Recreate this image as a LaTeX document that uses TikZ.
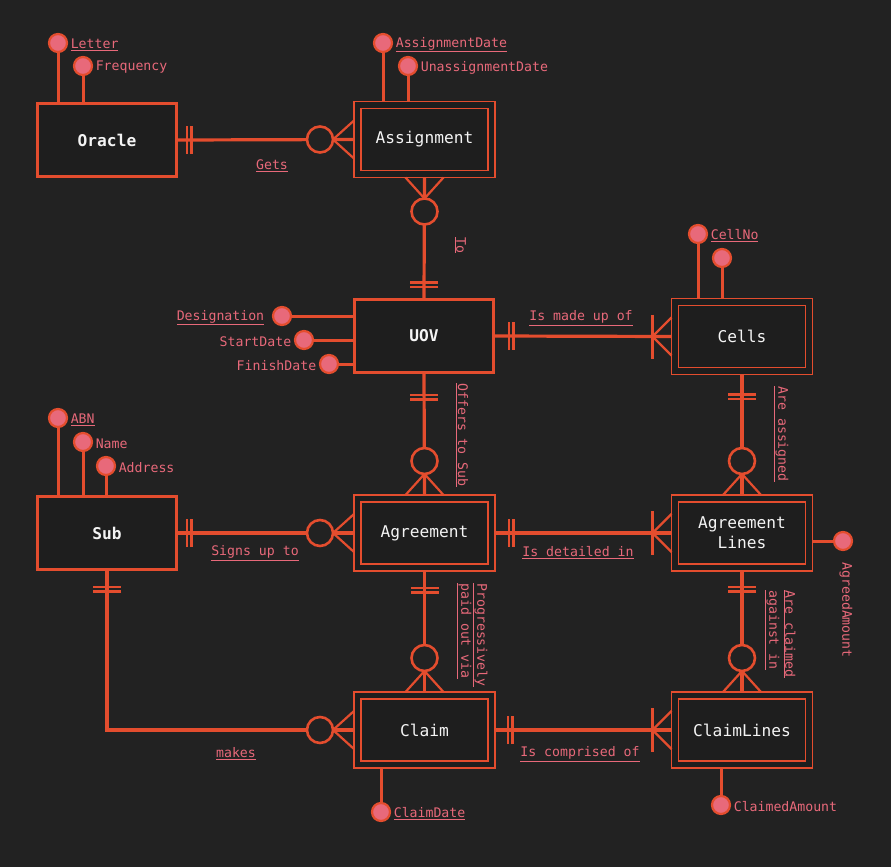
\documentclass[tikz,border=0pt]{standalone}
\usepackage{fontspec}
\setmainfont{DejaVu Sans Mono}
\usetikzlibrary{calc}

\definecolor{bgc}{HTML}{222222}
\definecolor{boxc}{HTML}{1E1E1E}
\definecolor{linec}{HTML}{E44D2E}
\definecolor{pinkc}{HTML}{E8697A}
\definecolor{namec}{HTML}{F4F4F4}

\tikzset{
  strong/.style={draw=linec, line width=3pt, fill=boxc, minimum width=139pt, minimum height=73pt,
    outer sep=1.5pt, text=namec, font=\fontsize{16.2}{20}\selectfont\bfseries},
  weak/.style={draw=linec, line width=1.3pt, double=boxc, double distance=5.7pt, fill=boxc,
    minimum width=134pt, minimum height=69pt, outer sep=3.5pt, text=namec,
    font=\fontsize{16.2}{20}\selectfont, align=center},
  attr/.style={circle, draw=linec, line width=2.2pt, fill=pinkc, minimum size=18pt, inner sep=0pt},
  attrtxt/.style={text=pinkc, font=\fontsize{13.2}{16}\selectfont, inner sep=2.5pt, yshift=-1.5pt},
  rel/.style={text=pinkc, font=\fontsize{13.2}{16}\selectfont, inner sep=1pt},
  conn/.style={draw=linec, line width=3.2pt},
  alink/.style={draw=linec, line width=3pt},
  mk/.style={draw=linec, line width=2.2pt}
}

% one and only one: #1 anchor, #2 direction away from entity, #3 offset of first bar
\newcommand{\oneone}[3]{%
  \begin{scope}[shift={(#1)}, rotate=#2]
    \draw[mk] (#3pt,-14pt) -- (#3pt,14pt) ++(4.5pt,0) -- ++(0,-28pt);
  \end{scope}}
% zero or many
\newcommand{\zeromany}[2]{%
  \begin{scope}[shift={(#1)}, rotate=#2]
    \draw[mk] (0pt,19pt) -- (21pt,0pt) -- (0pt,-19pt);
    \draw[mk, line width=2.6pt, fill=bgc] (34pt,0pt) circle (13pt);
  \end{scope}}
% one or many
\newcommand{\onemany}[2]{%
  \begin{scope}[shift={(#1)}, rotate=#2]
    \draw[mk] (0pt,19pt) -- (19pt,0pt) -- (0pt,-19pt);
    \draw[mk] (19pt,-22pt) -- (19pt,22pt);
  \end{scope}}

\begin{document}
\begin{tikzpicture}[x=1pt, y=-1pt]
  \fill[bgc] (0,0) rectangle (891,867);
  \useasboundingbox (0,0) rectangle (891,867);

  \node[strong] (oracle) at (107,140) {Oracle};
  \node[weak] (assign) at (424.5,139.5) {Assignment};
  \node[strong] (uov) at (424,336) {UOV};
  \node[weak] (cells) at (742,336.5) {Cells};
  \node[strong] (sub) at (107,533) {Sub};
  \node[weak] (agree) at (424.5,533) {Agreement};
  \node[weak] (alines) at (742,533) {Agreement\\Lines};
  \node[weak] (claim) at (424.5,730) {Claim};
  \node[weak] (clines) at (742,730) {ClaimLines};

  % attributes
  \node[attr, label={[attrtxt]right:\underline{Letter}}] (letter) at (58,43) {};
  \node[attr, label={[attrtxt]right:Frequency}] (freq) at (83,66) {};
  \draw[alink] (letter) -- (letter |- oracle.north);
  \draw[alink] (freq) -- (freq |- oracle.north);

  \node[attr, label={[attrtxt]right:\underline{AssignmentDate}}] (adate) at (383,43) {};
  \node[attr, label={[attrtxt]right:UnassignmentDate}] (udate) at (408,66) {};
  \draw[alink] (adate) -- (adate |- assign.north);
  \draw[alink] (udate) -- (udate |- assign.north);

  \node[attr, label={[attrtxt, label distance=5pt]left:\underline{Designation}}] (desig) at (282,316) {};
  \node[attr, label={[attrtxt]left:StartDate}] (start) at (304,340) {};
  \node[attr, label={[attrtxt]left:FinishDate}] (finish) at (329,364) {};
  \draw[alink] (desig) -- (desig -| uov.west);
  \draw[alink] (start) -- (start -| uov.west);
  \draw[alink] (finish) -- (finish -| uov.west);

  \node[attr, label={[attrtxt]right:\underline{CellNo}}] (cellno) at (698,234) {};
  \node[attr] (cellx) at (722,258) {};
  \draw[alink] (cellno) -- (cellno |- cells.north);
  \draw[alink] (cellx) -- (cellx |- cells.north);

  \node[attr, label={[attrtxt]right:\underline{ABN}}] (abn) at (58,418) {};
  \node[attr, label={[attrtxt]right:Name}] (name) at (83,442) {};
  \node[attr, label={[attrtxt]right:Address}] (addr) at (106,466) {};
  \draw[alink] (abn) -- (abn |- sub.north);
  \draw[alink] (name) -- (name |- sub.north);
  \draw[alink] (addr) -- (addr |- sub.north);

  \node[attr] (agreed) at (843,541) {};
  \draw[alink] (agreed) -- (agreed -| alines.east);
  \node[rel, rotate=-90] (agreedtxt) at (846,610) {AgreedAmount};

  \node[attr, label={[attrtxt]right:\underline{ClaimDate}}] (cdate) at (381,812) {};
  \draw[alink] (cdate) -- (cdate |- claim.south);
  \node[attr, label={[attrtxt]right:ClaimedAmount}] (camount) at (721,805) {};
  \draw[alink] (camount) -- (camount |- clines.south);

  % relationships
  \draw[conn] (oracle.east) -- (assign.west);
  \oneone{oracle.east}{0}{9}
  \zeromany{assign.west}{180}
  \node[rel] (gets) at (272,166) {\underline{Gets}};

  \draw[conn] (assign.south) -- (uov.north);
  \zeromany{assign.south}{-90}
  \oneone{uov.north}{90}{11}
  \node[rel, rotate=-90] (to) at (460,245) {\underline{To}};

  \draw[conn] (uov.east) -- (cells.west);
  \oneone{uov.east}{0}{14}
  \onemany{cells.west}{180}
  \node[rel] (madeup) at (581,318) {\underline{Is made up of}};

  \draw[conn] (uov.south) -- (agree.north);
  \oneone{uov.south}{-90}{21}
  \zeromany{agree.north}{90}
  \node[rel, rotate=-90] (offers) at (462,435) {\underline{Offers to Sub}};

  \draw[conn] (cells.south) -- (alines.north);
  \oneone{cells.south}{-90}{20}
  \zeromany{alines.north}{90}
  \node[rel, rotate=-90] (assigned) at (781,434) {\underline{Are assigned}};

  \draw[conn] (sub.east) -- (agree.west);
  \oneone{sub.east}{0}{9}
  \zeromany{agree.west}{180}
  \node[rel] (signs) at (255,553) {\underline{Signs up to}};

  \draw[conn] (agree.east) -- (alines.west);
  \oneone{agree.east}{0}{14}
  \onemany{alines.west}{180}
  \node[rel] (detailed) at (578,553) {\underline{Is detailed in}};

  \draw[conn] (agree.south) -- (claim.north);
  \oneone{agree.south}{-90}{17}
  \zeromany{claim.north}{90}
  \node[rel, rotate=-90, align=left] (paid) at (472,635) {\underline{Progressively}\\\underline{paid out via}};

  \draw[conn] (alines.south) -- (clines.north);
  \oneone{alines.south}{-90}{16}
  \zeromany{clines.north}{90}
  \node[rel, rotate=-90, align=left] (claimed) at (780,634) {\underline{Are claimed}\\\underline{against in}};

  \draw[conn] (sub.south) |- (claim.west);
  \oneone{sub.south}{-90}{16}
  \zeromany{claim.west}{180}
  \node[rel] (makes) at (236,754) {\underline{makes}};

  \draw[conn] (claim.east) -- (clines.west);
  \oneone{claim.east}{0}{13}
  \onemany{clines.west}{180}
  \node[rel] (comprised) at (580,754) {\underline{Is comprised of}};
\end{tikzpicture}
\end{document}
